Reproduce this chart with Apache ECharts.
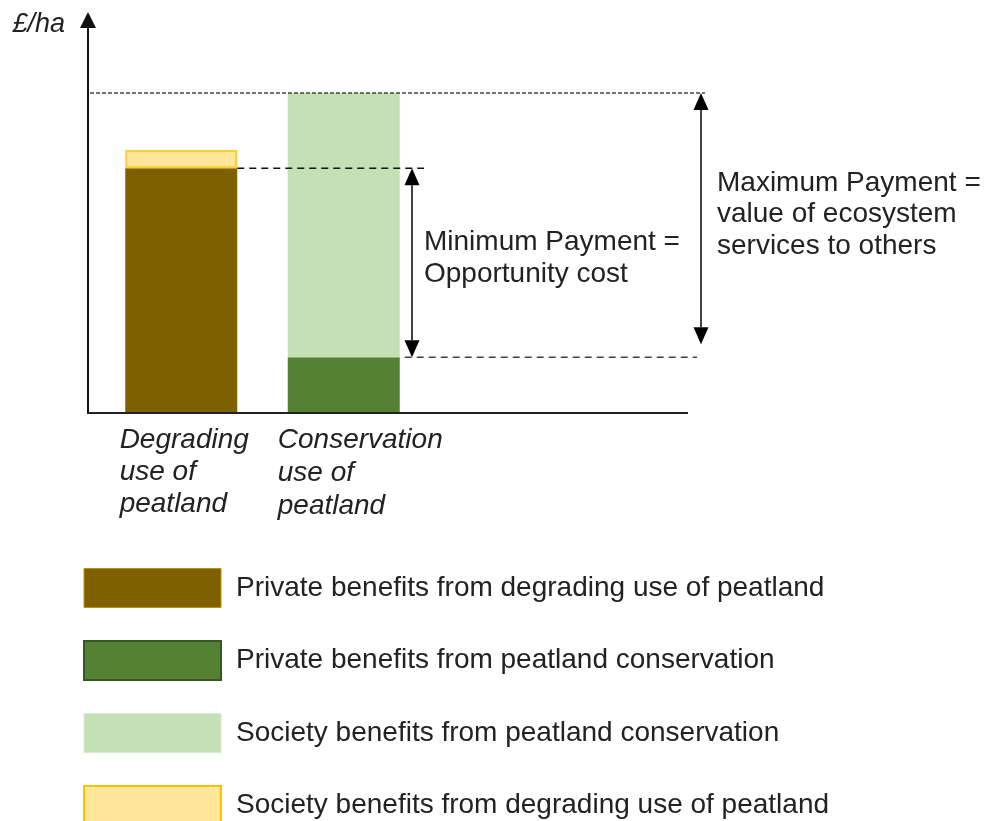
<!DOCTYPE html>
<html>
<head>
<meta charset="utf-8">
<script src="https://cdn.jsdelivr.net/npm/echarts@6/dist/echarts.min.js"></script>
<style>
html,body{margin:0;padding:0;background:#fff;}
#c{width:986px;height:821px;}
</style>
</head>
<body>
<div id="c"></div>
<script>
// ---- data ----
const categories = ['Degrading\nuse of\npeatland', 'Conservation\nuse of\npeatland'];
const seriesNames = [
  'Private benefits from degrading use of peatland',
  'Private benefits from peatland conservation',
  'Society benefits from peatland conservation',
  'Society benefits from degrading use of peatland'
];
const privateDegrading = [62.3, '-'];
const privateConservation = ['-', 14.2];
const societyConservation = ['-', 67.2];
const societyDegrading = [4.6, '-'];
const yAxisName = '£/ha';
const minText = 'Minimum Payment =\nOpportunity cost';
const maxText = 'Maximum Payment =\nvalue of ecosystem\nservices to others';

// ---- style ----
const FONT = "'Liberation Sans', Arial, sans-serif";
const TXT = '#222';
const BAR_W = 112;
const colors = ['#7f6000', '#548235', '#c5e0b4', '#ffe699'];

const chart = echarts.init(document.getElementById('c'), null, {renderer: 'canvas'});

const option = {
  animation: false,
  backgroundColor: '#fff',
  grid: {left: 100, width: 325, top: 20, bottom: 408, containLabel: false},
  xAxis: {
    type: 'category',
    data: categories,
    axisLine: {show: false},
    axisTick: {show: false},
    axisLabel: {
      margin: 11,
      interval: 0,
      align: 'center',
      formatter: function (v, idx) {
        const key = idx === 0 ? 'a' : 'b';
        return v.split('\n').map(l => '{' + key + '|' + l + '}').join('\n');
      },
      rich: {
        a: {fontSize: 28, fontStyle: 'italic', fontFamily: FONT, color: TXT, align: 'left', lineHeight: 32, padding: [0, 0, 0, 6]},
        b: {fontSize: 28, fontStyle: 'italic', fontFamily: FONT, color: TXT, align: 'left', lineHeight: 33, padding: [0, 0, 0, 33]}
      }
    }
  },
  yAxis: {
    type: 'value',
    min: 0,
    max: 100,
    offset: 12,
    name: yAxisName,
    nameLocation: 'end',
    nameGap: -4,
    nameTextStyle: {fontSize: 27, fontStyle: 'italic', fontFamily: FONT, color: TXT, align: 'right', verticalAlign: 'middle', padding: [0, 23, 0, 0]},
    axisLine: {show: true, lineStyle: {color: '#111', width: 2}, symbol: ['none', 'triangle'], symbolSize: [16, 16]},
    axisTick: {show: false},
    axisLabel: {show: false},
    splitLine: {show: false}
  },
  legend: {
    orient: 'vertical',
    left: 83,
    top: 568,
    height: 400,
    padding: 0,
    itemWidth: 137,
    itemHeight: 39,
    itemGap: 32,
    icon: 'rect',
    selectedMode: false,
    textStyle: {fontSize: 28, fontFamily: FONT, color: TXT, lineHeight: 34, padding: [0, 0, 0, 10]},
    data: [
      {name: seriesNames[0], itemStyle: {borderColor: '#bf9000', borderWidth: 1}},
      {name: seriesNames[1], itemStyle: {borderColor: '#385723', borderWidth: 2}},
      {name: seriesNames[2], itemStyle: {borderColor: '#d5ead0', borderWidth: 1}},
      {name: seriesNames[3], itemStyle: {borderColor: '#ffc000', borderWidth: 2}}
    ]
  },
  series: [
    {name: seriesNames[0], type: 'bar', stack: 't', barWidth: BAR_W, data: privateDegrading, itemStyle: {color: colors[0]}},
    {name: seriesNames[1], type: 'bar', stack: 't', barWidth: BAR_W, data: privateConservation, itemStyle: {color: colors[1]}},
    {name: seriesNames[2], type: 'bar', stack: 't', barWidth: BAR_W, data: societyConservation, itemStyle: {color: colors[2]}},
    {name: seriesNames[3], type: 'bar', stack: 't', barWidth: BAR_W, data: societyDegrading, itemStyle: {color: colors[3], borderColor: '#ffcc33', borderWidth: 2}}
  ]
};
chart.setOption(option);

// ---- annotations positioned through the chart's own scales ----
const yPx = v => chart.convertToPixel({yAxisIndex: 0}, v);
const xPx = i => chart.convertToPixel({xAxisIndex: 0}, i);
const y0 = yPx(0);
const yTop = yPx(privateConservation[1] + societyConservation[1]);
const yMid = yPx(privateDegrading[0]);
const yBot = yPx(privateConservation[1]);
const axisX = 88;
const bar1R = xPx(0) + BAR_W / 2;
const bar2R = xPx(1) + BAR_W / 2;

function dashed(x1, x2, y, color, dash) {
  return {type: 'line', shape: {x1: x1, y1: y, x2: x2, y2: y}, style: {stroke: color, lineWidth: 1.5, lineDash: dash}, z: 10};
}
function dblArrow(x, ya, yb, w, h) {
  return [
    {type: 'line', shape: {x1: x, y1: ya + h, x2: x, y2: yb - h}, style: {stroke: '#111', lineWidth: 1.6}, z: 10},
    {type: 'polygon', shape: {points: [[x, ya], [x - w / 2, ya + h], [x + w / 2, ya + h]]}, style: {fill: '#000'}, z: 10},
    {type: 'polygon', shape: {points: [[x, yb], [x - w / 2, yb - h], [x + w / 2, yb - h]]}, style: {fill: '#000'}, z: 10}
  ];
}
const minX = 412, maxX = 701;
const graphics = [
  {type: 'line', shape: {x1: axisX - 1, y1: y0, x2: 688, y2: y0}, style: {stroke: '#222', lineWidth: 2}, z: 10},
  dashed(axisX + 2, 705, yTop, '#444', [4, 2]),
  dashed(bar1R, 424, yMid, '#111', [7, 5]),
  dashed(bar2R + 5, 697, yBot, '#444', [7, 5]),
  ...dblArrow(minX, yMid, yBot, 15, 17),
  ...dblArrow(maxX, yTop, yBot - 13, 15, 17),
  {type: 'text', x: 424, y: (yMid + yBot) / 2 - 4, style: {text: minText, fontSize: 28, fontFamily: FONT, fill: TXT, lineHeight: 32, verticalAlign: 'middle', align: 'left'}, z: 10},
  {type: 'text', x: 717, y: (yTop + yBot - 13) / 2 - 4, style: {text: maxText, fontSize: 28, fontFamily: FONT, fill: TXT, lineHeight: 31.5, verticalAlign: 'middle', align: 'left'}, z: 10}
];
chart.setOption({graphic: graphics});
</script>
</body>
</html>
